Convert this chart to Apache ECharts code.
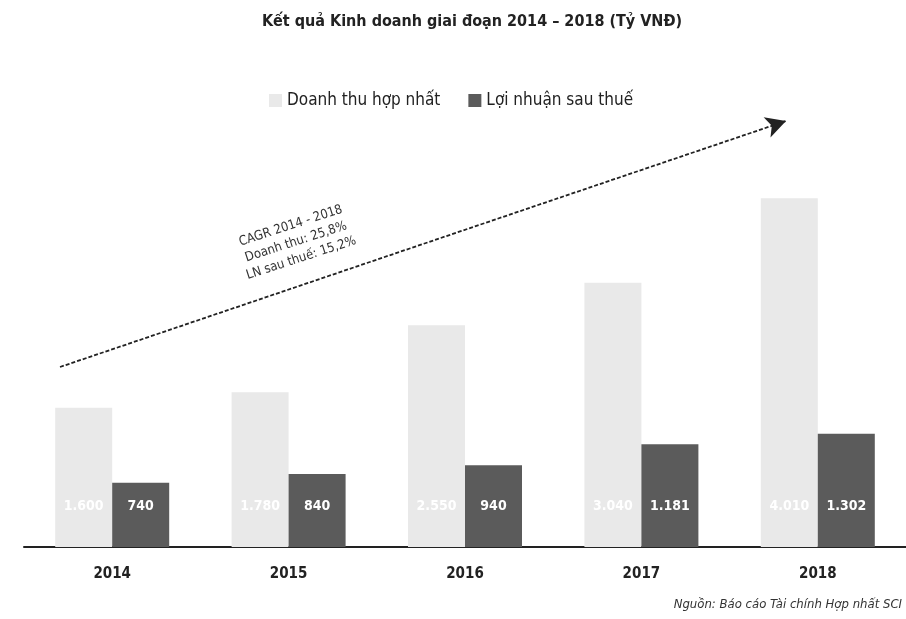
<!DOCTYPE html>
<html>
<head>
<meta charset="utf-8">
<script src="https://cdn.jsdelivr.net/npm/echarts@6/dist/echarts.min.js"></script>
<style>
  html, body { margin: 0; padding: 0; background: #fff; }
  #main { width: 906px; height: 619px; }
</style>
</head>
<body>
<div id="main"></div>
<script>
// du lieu doc tu hinh
var years = ["2014", "2015", "2016", "2017", "2018"];
var doanhThu = [1600, 1780, 2550, 3040, 4010];
var loiNhuan = [740, 840, 940, 1181, 1302];

var FONT = "'DejaVu Sans Condensed', 'Liberation Sans Narrow', 'Noto Sans', sans-serif";

function fmt(v) {
  return String(v).replace(/\B(?=(\d{3})+(?!\d))/g, ".");
}

var myChart = echarts.init(document.getElementById("main"));

var option = {
  backgroundColor: "#ffffff",
  animation: false,
  title: {
    text: "Kết quả Kinh doanh giai đoạn 2014 – 2018 (Tỷ VNĐ)",
    left: 467,
    textAlign: "center",
    top: 9,
    textStyle: { fontFamily: FONT, fontSize: 16, fontWeight: "bold", color: "#222" }
  },
  legend: {
    top: 87,
    left: 264,
    itemWidth: 13,
    itemHeight: 13,
    itemGap: 28,
    icon: "rect",
    textStyle: { fontFamily: FONT, fontSize: 17, color: "#222" },
    data: ["Doanh thu hợp nhất", "Lợi nhuận sau thuế"]
  },
  grid: { left: 24, width: 885, top: 147, bottom: 72 },
  xAxis: {
    type: "category",
    data: years,
    axisLine: { lineStyle: { color: "#222", width: 2 } },
    axisTick: { show: false },
    axisLabel: { fontFamily: FONT, fontSize: 15, fontWeight: "bold", color: "#222", margin: 20 }
  },
  yAxis: {
    type: "value",
    min: 0,
    max: 4600,
    show: false,
    splitLine: { show: false }
  },
  graphic: [
    {
      type: "text",
      x: 296,
      y: 242,
      rotation: 18 * Math.PI / 180,
      style: {
        text: "CAGR 2014 - 2018\nDoanh thu: 25,8%\nLN sau thuế: 15,2%",
        fill: "#333",
        font: "13px " + FONT,
        lineHeight: 17,
        align: "center",
        verticalAlign: "middle"
      }
    },
    {
      type: "text",
      right: 4,
      top: 598,
      style: {
        text: "Nguồn: Báo cáo Tài chính Hợp nhất SCI",
        fill: "#333",
        font: "italic 13px " + FONT
      }
    }
  ],
  series: [
    {
      name: "Doanh thu hợp nhất",
      type: "bar",
      data: doanhThu,
      barWidth: 57,
      barGap: "0%",
      itemStyle: { color: "#e9e9e9" },
      label: {
        show: true,
        position: "insideBottom",
        distance: 34,
        color: "#ffffff",
        fontFamily: FONT,
        fontWeight: "bold",
        fontSize: 14,
        formatter: function (p) { return fmt(p.value); }
      },
      markLine: {
        silent: true,
        symbol: ["none", "arrow"],
        symbolSize: [16, 20],
        label: { show: false },
        lineStyle: { color: "#222", type: [4, 2], width: 1.8 },
        data: [[{ x: 60, y: 367 }, { x: 786, y: 121 }]]
      }
    },
    {
      name: "Lợi nhuận sau thuế",
      type: "bar",
      data: loiNhuan,
      barWidth: 57,
      itemStyle: { color: "#5b5b5b" },
      label: {
        show: true,
        position: "insideBottom",
        distance: 34,
        color: "#ffffff",
        fontFamily: FONT,
        fontWeight: "bold",
        fontSize: 14,
        formatter: function (p) { return fmt(p.value); }
      }
    }
  ]
};

myChart.setOption(option);
</script>
</body>
</html>
